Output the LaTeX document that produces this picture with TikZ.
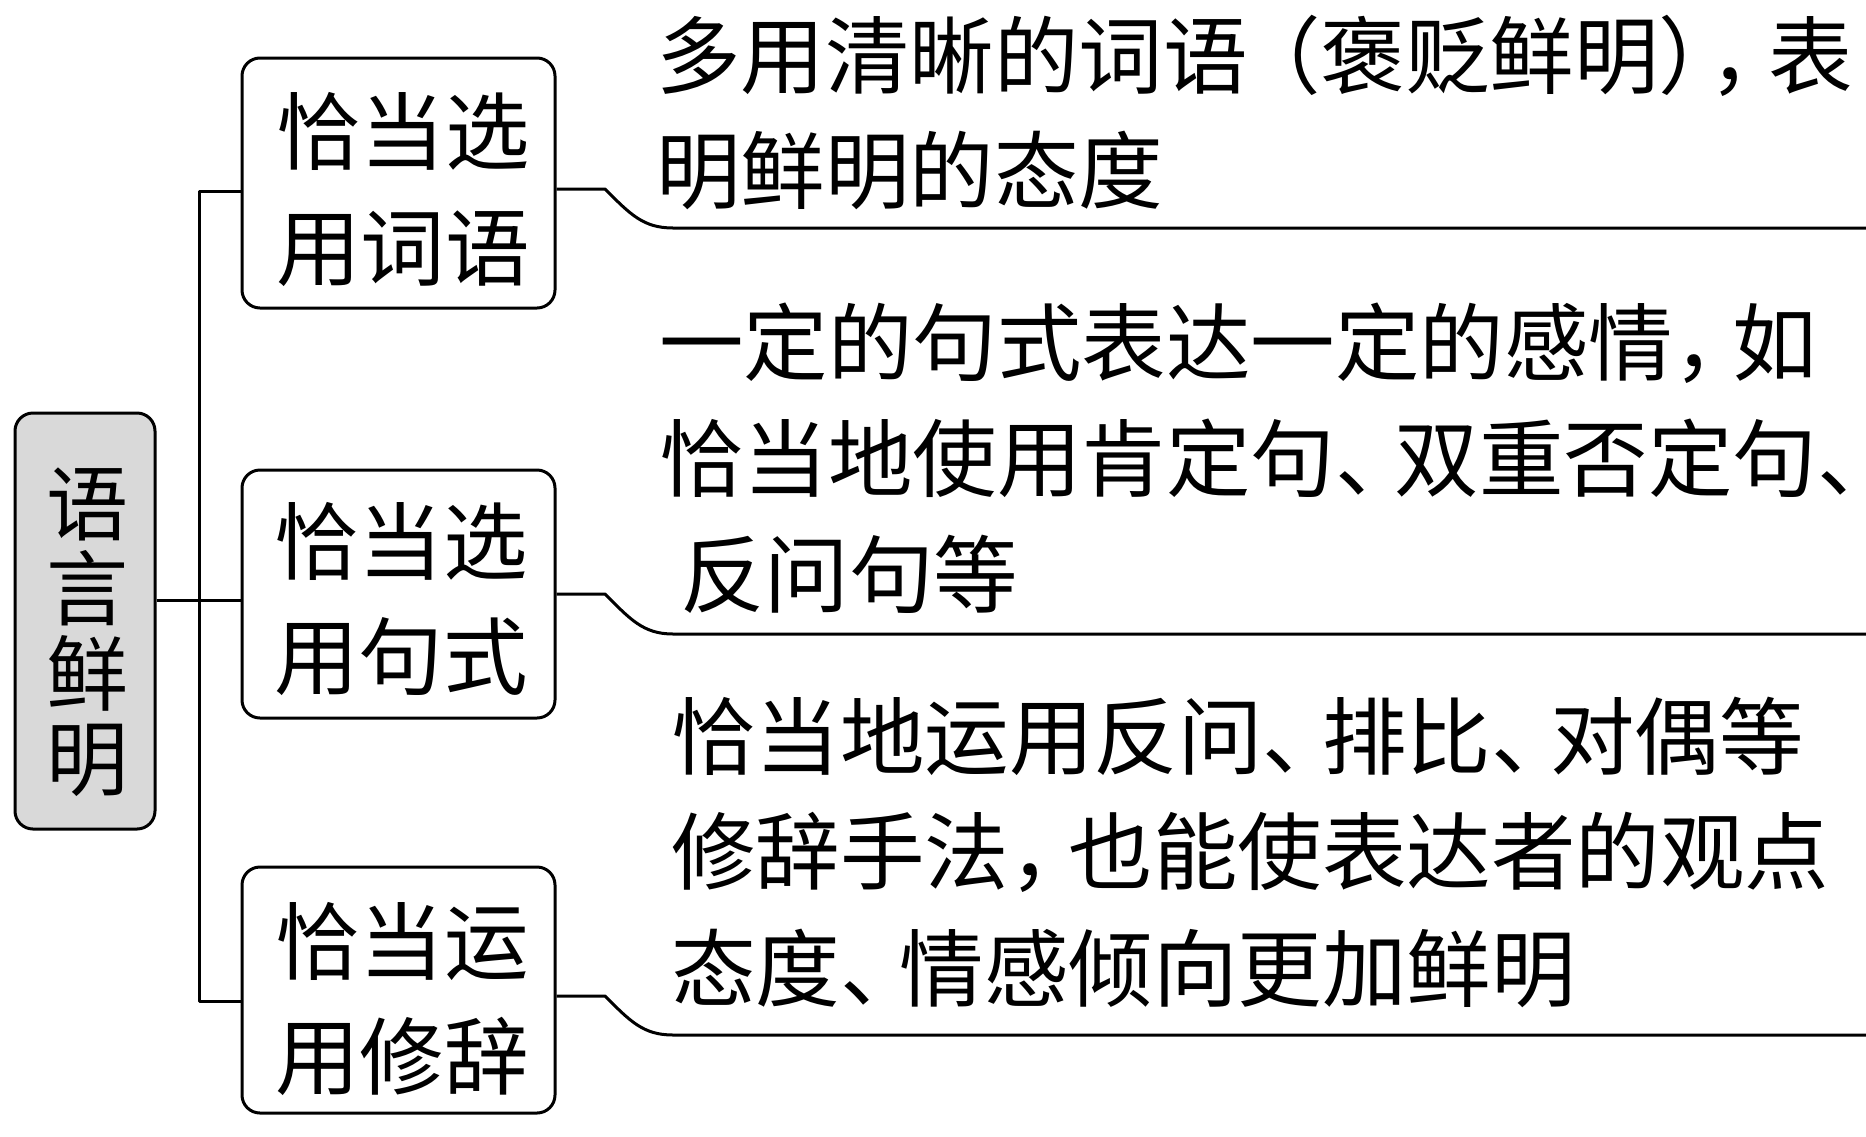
\documentclass[tikz,border=0pt]{standalone}
\usepackage{fontspec}
\setmainfont{Noto Sans CJK SC}
\definecolor{rootgray}{HTML}{D9D9D9}
\newcommand\mydun{\makebox[0.7em][l]{、}}
\newcommand\mydunend{\makebox[0.45em][l]{、}}
\newcommand\mydou{\makebox[0.7em][l]{，}}
\tikzset{
  conn/.style={line width=1.5pt, line join=round},
  rbox/.style={draw, line width=1.5pt, rounded corners=9pt, minimum width=156.5pt, inner sep=0pt},
  rootbox/.style={rbox, fill=rootgray, minimum width=70pt, minimum height=208pt},
  boxtxt/.style={inner sep=0pt, align=center, font=\fontsize{42.25}{57.75}\selectfont},
  roottxt/.style={inner sep=0pt, align=center, font=\fontsize{41}{42.5}\selectfont},
  desc/.style={inner sep=0pt, anchor=base west, font=\fontsize{42.25}{57.75}\selectfont}
}
\begin{document}
\begin{tikzpicture}[x=0.5pt,y=-0.5pt]
\useasboundingbox (0,0) rectangle (1866,1136);

% root
\node[rootbox] (root) at (85,621) {};
\node[roottxt] (roott) at (87,632) {语\\言\\鲜\\明};

% boxes
\node[rbox, minimum height=125pt] (b1) at (398.5,183) {};
\node[boxtxt] (b1t) at (403,189.5) {恰当选\\用词语};
\node[rbox, minimum height=124pt] (b2) at (398.5,594) {};
\node[boxtxt] (b2t) at (401,599) {恰当选\\用句式};
\node[rbox, minimum height=123pt] (b3) at (398.5,990) {};
\node[boxtxt] (b3t) at (402,999) {恰当运\\用修辞};

% trunk
\coordinate (t1) at (199,191);
\coordinate (t2) at (199,600);
\coordinate (t3) at (199,1001);
\draw[conn] (b1.west |- t1) -- (t1) -- (t3) -- (b3.west |- t3);
\draw[conn] (root.east |- t2) -- (b2.west |- t2);

% right connectors
\coordinate (k1) at (605,189);  \coordinate (e1) at (673,228);  \coordinate (f1) at (1866,228);
\coordinate (k2) at (605,594);  \coordinate (e2) at (673,634);  \coordinate (f2) at (1866,634);
\coordinate (k3) at (605,996);  \coordinate (e3) at (673,1035); \coordinate (f3) at (1866,1035);
\draw[conn] (b1.east |- k1) -- (k1) .. controls +(25,25) and +(-30,0) .. (e1) -- (f1);
\draw[conn] (b2.east |- k2) -- (k2) .. controls +(25,25) and +(-30,0) .. (e2) -- (f2);
\draw[conn] (b3.east |- k3) -- (k3) .. controls +(25,25) and +(-30,0) .. (e3) -- (f3);

% descriptions
\node[desc] (a1) at (656,87) {多用清晰的词语\makebox[0.86em][r]{（}褒贬鲜明\makebox[0.6em][l]{）}\mydou 表};
\node[desc] (a2) at (656,202) {明鲜明的态度};
\node[desc] (c1) at (659,374) {一定的句式表达一定的感情\mydou 如};
\node[desc] (c2) at (659,490) {恰当地使用肯定句\mydun 双重否定句\mydunend};
\node[desc] (c3) at (680,606) {反问句等};
\node[desc] (d1) at (671,768) {恰当地运用反问\mydun 排比\mydun 对偶等};
\node[desc] (d2) at (671,883) {修辞手法\mydou 也能使表达者的观点};
\node[desc] (d3) at (671,1000) {态度\mydun 情感倾向更加鲜明};
\end{tikzpicture}
\end{document}
